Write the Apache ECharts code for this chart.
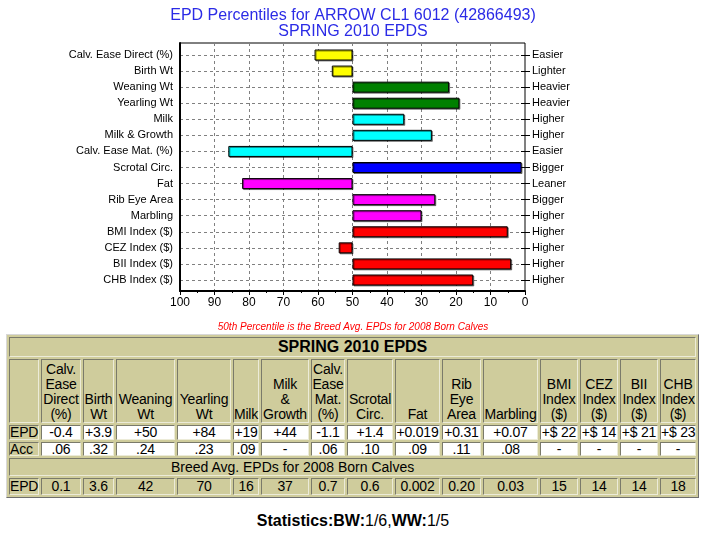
<!DOCTYPE html>
<html>
<head>
<meta charset="utf-8">
<script src="https://cdn.jsdelivr.net/npm/echarts@6/dist/echarts.min.js"></script>
<style>
html,body{margin:0;padding:0;background:#fff;}
#wrap{position:relative;width:706px;height:537px;overflow:hidden;font-family:Arial,"Liberation Sans",sans-serif;}
#chart{position:absolute;left:0;top:0;width:706px;height:332px;}
#t{position:absolute;left:6px;top:334px;width:692px;border-collapse:separate;border-spacing:2px;background:#CFCC9C;
  border:1px solid;border-color:#d8d8d8 #6e6e6e #6e6e6e #d8d8d8;table-layout:fixed;font-family:Arial,"Liberation Sans",sans-serif;font-size:14px;color:#000;}
#t td{box-sizing:border-box;border:1px solid;border-color:#7a7a6a #ecebd8 #ecebd8 #7a7a6a;padding:0;text-align:center;white-space:pre;overflow:visible;letter-spacing:-0.2px;}
#t td.w{background:#fff;}
#t td.l{text-align:left;padding-left:0;}
#t tr.title td{font-weight:bold;font-size:16px;height:20px;line-height:18px;letter-spacing:0;}
#t tr.hdr td{vertical-align:bottom;height:64px;line-height:15px;}
#t tr.epd td{height:15px;line-height:13px;}
#t tr.acc td{height:14px;line-height:12px;}
#t tr.breed td{height:18px;line-height:16px;padding-right:120px;letter-spacing:0;}
#t tr.avg td{height:17px;line-height:15px;}
#stats{position:absolute;left:0;top:512px;width:706px;text-align:center;font-size:16px;color:#000;font-family:Arial,"Liberation Sans",sans-serif;}
</style>
</head>
<body>
<div id="wrap">
<div id="chart"></div>
<table id="t"></table>
<div id="stats"><b>Statistics:</b><b>BW:</b>1/6,<b>WW:</b>1/5</div>
</div>
<script>
// ---- chart data ----
var categories = ["Calv. Ease Direct (%)","Birth Wt","Weaning Wt","Yearling Wt","Milk","Milk & Growth","Calv. Ease Mat. (%)","Scrotal Circ.","Fat","Rib Eye Area","Marbling","BMI Index ($)","CEZ Index ($)","BII Index ($)","CHB Index ($)"];
var rightLabels = ["Easier","Lighter","Heavier","Heavier","Higher","Higher","Easier","Bigger","Leaner","Bigger","Higher","Higher","Higher","Higher","Higher"];
var percentiles = [61,56,22,19,35,27,86,1,82,26,30,5,54,4,15];
var barColors = ["#FFFF00","#FFFF00","#008000","#008000","#00FFFF","#00FFFF","#00FFFF","#0000FF","#FF00FF","#FF00FF","#FF00FF","#FF0000","#FF0000","#FF0000","#FF0000"];
var xTicks = [0,10,20,30,40,50,60,70,80,90,100];
var breedLevel = 50;

// ---- table data ----
var tableTitle = "SPRING 2010 EPDS";
var tableHeaders = ["Calv.\nEase\nDirect\n(%)","Birth\nWt","Weaning\nWt","Yearling\nWt","Milk","Milk\n&\nGrowth","Calv.\nEase\nMat.\n(%)","Scrotal\nCirc.","Fat","Rib\nEye\nArea","Marbling","BMI\nIndex\n($)","CEZ\nIndex\n($)","BII\nIndex\n($)","CHB\nIndex\n($)"];
var epdValues = ["-0.4","+3.9","+50","+84","+19","+44","-1.1","+1.4","+0.019","+0.31","+0.07","+$ 22","+$ 14","+$ 21","+$ 23"];
var accValues = [".06",".32",".24",".23",".09","-",".06",".10",".09",".11",".08","-","-","-","-"];
var breedTitle = "Breed Avg. EPDs for 2008 Born Calves";
var breedAvg = ["0.1","3.6","42","70","16","37","0.7","0.6","0.002","0.20","0.03","15","14","14","18"];
var colWidths = [30,40,31,59,54,26,48,34,46,45,39,55,38,38,38,36];

// ---- build table ----
(function(){
  var t = document.getElementById('t');
  var cg = document.createElement('colgroup');
  colWidths.forEach(function(w){ var c=document.createElement('col'); c.style.width=w+'px'; cg.appendChild(c); });
  t.appendChild(cg);
  function row(cls){ var r=document.createElement('tr'); r.className=cls; t.appendChild(r); return r; }
  function cell(r, text, cls, span){ var d=document.createElement('td'); d.textContent=text; if(cls) d.className=cls; if(span) d.colSpan=span; r.appendChild(d); return d; }
  var r0 = row('title'); cell(r0, tableTitle, '', 16);
  var r1 = row('hdr'); cell(r1, ''); tableHeaders.forEach(function(h){ cell(r1, h); });
  var r2 = row('epd'); cell(r2, 'EPD', 'l'); epdValues.forEach(function(v){ cell(r2, v, 'w'); });
  var r3 = row('acc'); cell(r3, 'Acc', 'l'); accValues.forEach(function(v){ cell(r3, v, 'w'); });
  var r4 = row('breed'); cell(r4, breedTitle, '', 16);
  var r5 = row('avg'); cell(r5, 'EPD', 'l'); breedAvg.forEach(function(v){ cell(r5, v); });
})();

// ---- chart ----
var chart = echarts.init(document.getElementById('chart'), null, {renderer:'canvas'});
var font = 'Arial, "Liberation Sans", sans-serif';
var option = {
  animation:false,
  backgroundColor:'#fff',
  textStyle:{fontFamily:font},
  title:[
    {text:'EPD Percentiles for ARROW CL1 6012 (42866493)\nSPRING 2010 EPDS', left:'center', top:3,
     textStyle:{fontSize:16, fontWeight:'normal', color:'#2B2BE6', fontFamily:font, lineHeight:16}},
    {text:'50th Percentile is the Breed Avg. EPDs for 2008 Born Calves', left:'center', top:317,
     textStyle:{fontSize:10, fontWeight:'normal', fontStyle:'italic', color:'#FF0000', fontFamily:font}}
  ],
  grid:[
    {left:180, top:43, width:345, height:248, show:true, borderColor:'#000', borderWidth:1, backgroundColor:'transparent'},
    {left:180, top:55, width:345, height:225}
  ],
  xAxis:[
    {gridIndex:0, type:'value', min:xTicks[0], max:xTicks[xTicks.length-1], interval:10, inverse:true, position:'bottom',
     axisLine:{show:true, onZero:false, lineStyle:{color:'#000', width:2}},
     axisTick:{show:true, length:4, lineStyle:{color:'#000'}},
     minorTick:{show:true, splitNumber:2, length:2, lineStyle:{color:'#000'}},
     axisLabel:{fontSize:12, color:'#000', margin:6, fontFamily:font},
     splitLine:{show:true, lineStyle:{color:'#808080', type:[3,3], width:1}}},
    {gridIndex:0, type:'value', min:xTicks[0], max:xTicks[xTicks.length-1], interval:10, inverse:true, position:'top',
     axisLine:{show:false}, axisTick:{show:true, inside:true, length:3, lineStyle:{color:'#000'}},
     axisLabel:{show:false}, splitLine:{show:false}},
    {gridIndex:1, type:'value', min:xTicks[0], max:xTicks[xTicks.length-1], inverse:true, show:false}
  ],
  yAxis:[
    {gridIndex:0, type:'value', min:0, max:1, position:'left',
     axisLine:{show:true, onZero:false, lineStyle:{color:'#000', width:2}},
     axisTick:{show:false}, axisLabel:{show:false}, splitLine:{show:false}},
    {gridIndex:1, type:'category', data:categories, inverse:true, boundaryGap:false, position:'left',
     axisLine:{show:false}, axisTick:{show:true, length:4, lineStyle:{color:'#000'}},
     axisLabel:{fontSize:11, color:'#000', margin:7, fontFamily:font, interval:0},
     splitLine:{show:true, interval:0, lineStyle:{color:'#808080', type:[3,3], width:1}}},
    {gridIndex:1, type:'category', data:rightLabels, inverse:true, boundaryGap:false, position:'right',
     axisLine:{show:false}, axisTick:{show:true, length:5, interval:0, lineStyle:{color:'#000'}},
     axisLabel:{fontSize:11, color:'#000', margin:7, fontFamily:font, interval:0},
     splitLine:{show:false}}
  ],
  series:[
    {type:'bar', xAxisIndex:2, yAxisIndex:1, stack:'p', barWidth:11, silent:true,
     itemStyle:{color:'rgba(0,0,0,0)'},
     data:percentiles.map(function(v){ return Math.min(v, breedLevel); })},
    {type:'bar', xAxisIndex:2, yAxisIndex:1, stack:'p', barWidth:11,
     itemStyle:{borderColor:'#000', borderWidth:1, shadowColor:'rgba(0,0,0,0.45)', shadowOffsetX:1, shadowOffsetY:1, shadowBlur:0},
     data:percentiles.map(function(v,i){ return {value:Math.abs(v-breedLevel), itemStyle:{color:barColors[i]}}; })}
  ]
};
chart.setOption(option);
</script>
</body>
</html>
